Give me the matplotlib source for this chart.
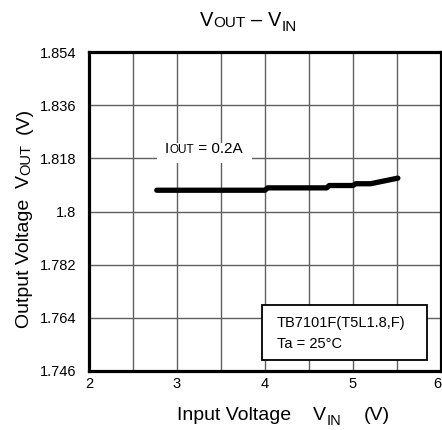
import numpy as np
import matplotlib
matplotlib.use('Agg')
import matplotlib.pyplot as plt
from matplotlib.patches import Rectangle
from matplotlib import rcParams
rcParams['font.family'] = ['Liberation Sans', 'DejaVu Sans']

# data (Vin, Vout)
vin = [2.77, 4.00, 4.03, 4.70, 4.73, 5.00, 5.03, 5.20, 5.51]
vout = [1.8072, 1.8072, 1.8080, 1.8080, 1.8088, 1.8088, 1.8094, 1.8094, 1.8113]

x_ticks = [2, 3, 4, 5, 6]
y_ticks = [1.746, 1.764, 1.782, 1.800, 1.818, 1.836, 1.854]
y_labels = ['1.746', '1.764', '1.782', '1.8', '1.818', '1.836', '1.854']

W, H = 442, 430
fig = plt.figure(figsize=(W / 100, H / 100), dpi=100)
ax = fig.add_axes([89 / W, 1 - 371 / H, 352 / W, 319 / H])

ax.set_xlim(2, 6)
ax.set_ylim(1.746, 1.854)
ax.set_xticks(x_ticks)
ax.set_xticks(np.arange(2, 6.01, 0.5), minor=True)
ax.set_yticks(y_ticks)
ax.set_yticklabels(y_labels)
ax.tick_params(which='both', length=0, labelsize=10.5)
ax.tick_params(axis='y', pad=9)
ax.tick_params(axis='x', pad=4)
# last x label sits flush with the right edge
ax.get_xticklabels()[-1].set_horizontalalignment('right')
ax.grid(which='both', color='#606060', lw=1.0, zorder=1)
ax.set_axisbelow(True)
for s in ax.spines.values():
    s.set_linewidth(2.3)
    s.set_zorder(5)

ax.plot(vin, vout, color='black', lw=3.8, solid_capstyle='round', zorder=4)

# white patch behind the Iout label
ax.add_patch(Rectangle((0.193, 0.652), 0.27, 0.063, transform=ax.transAxes,
                       facecolor='white', edgecolor='none', zorder=2))
# condition box
ax.add_patch(Rectangle((0.4915, 0.0345), 0.469, 0.172, transform=ax.transAxes,
                       facecolor='white', edgecolor='black', lw=1.3, zorder=3))
ax.text(0.534, 0.138, 'TB7101F(T5L1.8,F)', transform=ax.transAxes,
        fontsize=10.5, va='baseline', zorder=6)
ax.text(0.534, 0.072, 'Ta = 25°C', transform=ax.transAxes,
        fontsize=10.5, va='baseline', zorder=6)


def chain(first, parts, rotation=0):
    t = first
    for s, size, dx, dy in parts:
        if rotation == 0:
            t = ax.annotate(s, xy=(1, 0), xycoords=t, xytext=(dx, dy),
                            textcoords='offset points', fontsize=size,
                            ha='left', va='bottom', annotation_clip=False, zorder=6)
        else:
            t = ax.annotate(s, xy=(1, 1), xycoords=t, xytext=(-dy, dx),
                            textcoords='offset points', fontsize=size, rotation=90,
                            ha='right', va='bottom', annotation_clip=False, zorder=6)
    return t


# Iout label
t0 = ax.text(0.216, 0.674, 'I', transform=ax.transAxes, fontsize=11,
             ha='left', va='bottom', zorder=6)
chain(t0, [('OUT', 8.5, 0, 0), (' = 0.2A', 11, 0, 0)])

# title
t0 = fig.text(200 / W, 1 - 30 / H, 'V', fontsize=14.5, ha='left', va='bottom')
chain(t0, [('OUT', 11, 0, 0), ('–', 14.5, 4, 0), ('V', 14.5, 4, 0), ('IN', 11, 0, -3)])

# x label
t0 = fig.text(177 / W, 1 - 424 / H, 'Input Voltage', fontsize=14, ha='left', va='bottom')
chain(t0, [('V', 14, 16, 0), ('IN', 10.5, 0, -3), ('(V)', 14, 16, 3)])

# y label
t0 = fig.text(33 / W, 1 - 328 / H, 'Output Voltage', fontsize=14, rotation=90,
              ha='right', va='bottom')
chain(t0, [('V', 14, 8, 0), ('OUT', 10.5, 0, 0), ('(V)', 14, 7, 0)], rotation=90)

fig.savefig('out.png', dpi=100)
